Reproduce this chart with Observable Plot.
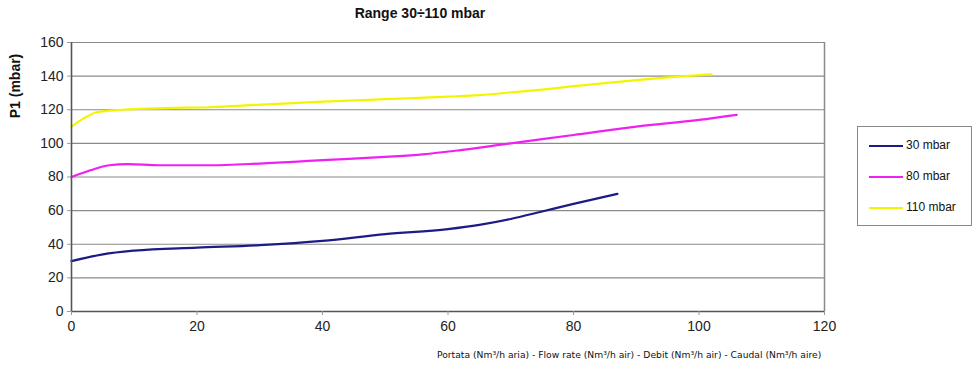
<!DOCTYPE html>
<html>
<head>
<meta charset="utf-8">
<script src="https://cdn.jsdelivr.net/npm/d3@7"></script>
<script src="https://cdn.jsdelivr.net/npm/@observablehq/plot@0.6"></script>
<style>
  html, body { margin: 0; padding: 0; background: #fff; }
  #wrap { position: relative; width: 979px; height: 367px; overflow: hidden; font-family: "Liberation Sans", Arial, sans-serif; }
  #title { position: absolute; left: 0; width: 840px; top: 5px; text-align: center; font-weight: bold; font-size: 14px; color: #111; }
  #ylab { position: absolute; left: 15px; top: 86px; transform: translate(-50%, -50%) rotate(-90deg); font-weight: bold; font-size: 14px; color: #111; white-space: nowrap; }
  #xlab { position: absolute; left: 437px; top: 349px; font-family: "DejaVu Sans", sans-serif; font-size: 9.2px; color: #111; white-space: nowrap; }
  #legend { position: absolute; left: 857px; top: 126px; width: 115px; height: 100px; border: 1px solid #888; box-sizing: border-box; }
  .item { position: absolute; left: 11px; height: 14px; font-size: 12px; color: #111; }
  .item span.ln { position: absolute; left: 0; top: 6px; width: 34px; height: 2px; }
  .item span.tx { position: absolute; left: 37px; top: -1px; white-space: nowrap; }
</style>
</head>
<body>
<div id="wrap">
  <div id="chart"></div>
  <div id="title">Range 30÷110 mbar</div>
  <div id="ylab">P1 (mbar)</div>
  <div id="xlab">Portata (Nm³/h aria) - Flow rate (Nm³/h air) - Debit (Nm³/h air) - Caudal (Nm³/h aire)</div>
  <div id="legend"></div>
</div>
<script>
const seriesNames = ["30 mbar", "80 mbar", "110 mbar"];
const seriesColors = ["#1c1c86", "#f020f0", "#f4f400"];

const flow30 = [0, 5, 10, 20, 30, 40, 50, 60, 65, 70, 75, 80, 87];
const p30    = [30, 34, 36.2, 38, 39.5, 42, 46, 49, 51.5, 55, 59.5, 64, 70];

const flow80 = [0, 3, 6, 9, 14, 22, 30, 40, 50, 56, 62, 70, 80, 90, 100, 106];
const p80    = [80, 84, 87, 87.7, 87, 87, 88, 90, 92, 93.5, 96, 100, 105, 110, 114, 117];

const flow110 = [0, 2, 4, 8, 15, 22, 30, 40, 50, 60, 65, 70, 75, 80, 85, 90, 96, 102];
const p110    = [110, 115, 118.5, 120, 121, 121.5, 123, 124.8, 126.3, 127.8, 128.7, 130.3, 132, 134, 135.8, 137.6, 139.5, 141];

const xTicks = [0, 20, 40, 60, 80, 100, 120];
const yTicks = [0, 20, 40, 60, 80, 100, 120, 140, 160];

const flows = [flow30, flow80, flow110];
const pressures = [p30, p80, p110];
const data = [];
seriesNames.forEach((s, i) => {
  flows[i].forEach((f, j) => data.push({series: s, flow: f, p: pressures[i][j]}));
});

const plot = Plot.plot({
  width: 979,
  height: 367,
  marginLeft: 71,
  marginRight: 155,
  marginTop: 42,
  marginBottom: 56,
  style: {fontFamily: "'Liberation Sans', Arial, sans-serif", fontSize: "14px", color: "#222", background: "#fff"},
  x: {domain: [0, 120], ticks: xTicks, label: null},
  y: {domain: [0, 160], ticks: yTicks, label: null},
  color: {domain: seriesNames, range: seriesColors},
  marks: [
    Plot.ruleY(yTicks.filter(d => d > 0), {stroke: "#8a8a8a", strokeWidth: 1.2}),
    Plot.ruleX([120], {stroke: "#8a8a8a", strokeWidth: 1.5}),
    Plot.line(data, {x: "flow", y: "p", z: "series", stroke: "series", strokeWidth: 2.2, curve: "monotone-x"}),
    Plot.ruleX([0], {stroke: "#555", strokeWidth: 1.6}),
    Plot.ruleY([0], {stroke: "#555", strokeWidth: 1.6}),
    Plot.axisX({ticks: xTicks, tickSize: 4, tickPadding: 6, stroke: "#999", fill: "#222", label: null, fontSize: 14}),
    Plot.axisY({ticks: yTicks, tickSize: 4, tickPadding: 4, stroke: "#999", fill: "#222", label: null, fontSize: 14})
  ]
});
document.getElementById("chart").appendChild(plot);

const legend = document.getElementById("legend");
seriesNames.forEach((s, i) => {
  const it = document.createElement("div");
  it.className = "item";
  it.style.top = (12 + i * 31) + "px";
  it.innerHTML = `<span class="ln" style="background:${seriesColors[i]}"></span><span class="tx">${s}</span>`;
  legend.appendChild(it);
});
</script>
</body>
</html>
